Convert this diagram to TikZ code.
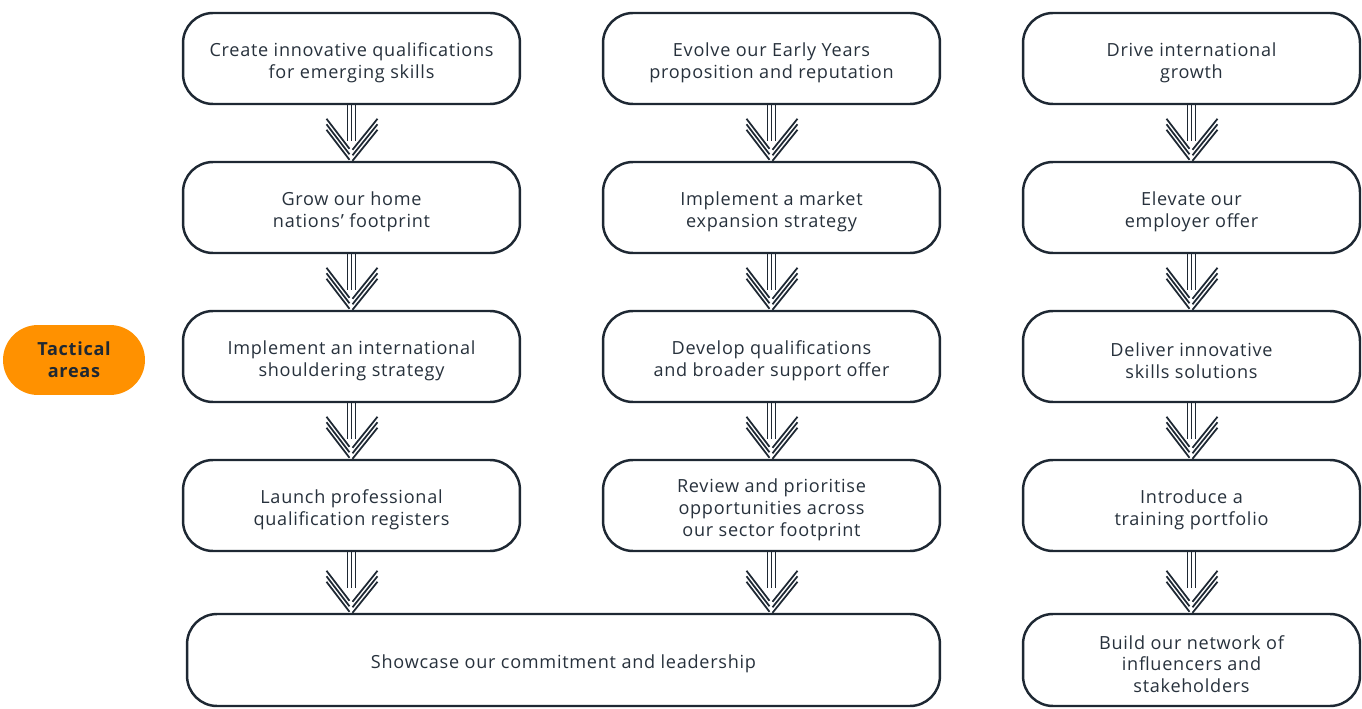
\documentclass[tikz,border=0pt]{standalone}
\usepackage{fontspec}
\setmainfont{Open Sans}[LetterSpace=4]
\definecolor{navy}{HTML}{1E2833}
\definecolor{inktext}{HTML}{27313C}
\definecolor{tactorange}{HTML}{FF9100}
\tikzset{
  goal/.style={draw=navy, line width=1.4pt, rounded corners=0.6cm, fill=white,
    minimum width=6.74cm, minimum height=1.82cm, align=center, text=inktext,
    font=\fontsize{10.3}{12.4}\selectfont, inner sep=0pt},
  flowline/.style={draw=navy, line width=1pt},
}
% strut that drops the text a little in its box
\newcommand{\lowstrut}{\rule{0pt}{12.4pt}}
% triple-line arrow from one box to the next
\newcommand{\flow}[2]{%
  \foreach \k in {-4,0,4}
    \draw[flowline] (#1.south) ++(\k,0) -- ++(0,36);
  \foreach \k in {0,5.5,11}{
    \draw[flowline] (#1.south |- #2.north) ++(-25,-42+\k) -- ++(23,30);
    \draw[flowline] (#1.south |- #2.north) ++(26,-42+\k) -- ++(-25,31);
  }
}
\begin{document}
\begin{tikzpicture}[x=0.02cm, y=-0.02cm]
  \useasboundingbox (0,0) rectangle (1362,709);
  % tactical areas badge
  \node[fill=tactorange, rounded corners=0.7cm, minimum width=2.84cm, minimum height=1.4cm,
    align=center, text=navy, font=\fontsize{10.3}{12.4}\selectfont\bfseries]
    (tact) at (74,360) {Tactical\\areas};
  % first column
  \node[goal] (c1r1) at (351.5,58.5) {\lowstrut Create innovative qualifications\\for emerging skills};
  \node[goal] (c1r2) at (351.5,207.5) {\lowstrut Grow our home\\nations' footprint};
  \node[goal] (c1r3) at (351.5,356.5) {\lowstrut Implement an international\\shouldering strategy};
  \node[goal] (c1r4) at (351.5,505.5) {\lowstrut Launch professional\\qualification registers};
  % second column
  \node[goal] (c2r1) at (771.5,58.5) {\lowstrut Evolve our Early Years\\proposition and reputation};
  \node[goal] (c2r2) at (771.5,207.5) {\lowstrut Implement a market\\expansion strategy};
  \node[goal] (c2r3) at (771.5,356.5) {\lowstrut Develop qualifications\\and broader support offer};
  \node[goal] (c2r4) at (771.5,505.5) {\lowstrut Review and prioritise\\opportunities across\\our sector footprint};
  % shared box
  \node[goal, minimum width=15.06cm, minimum height=1.84cm] (show) at (563.5,660)
    {\lowstrut Showcase our commitment and leadership};
  % third column
  \node[goal] (c3r1) at (1191.5,58.5) {\lowstrut Drive international\\growth};
  \node[goal] (c3r2) at (1191.5,207.5) {\lowstrut Elevate our\\employer offer};
  \node[goal] (c3r3) at (1191.5,356.5) {\lowstrut Deliver innovative\\skills solutions};
  \node[goal] (c3r4) at (1191.5,505.5) {\lowstrut Introduce a\\training portfolio};
  \node[goal, minimum height=1.84cm] (c3r5) at (1191.5,660)
    {\lowstrut Build our network of\\influencers and\\stakeholders};
  % arrows
  \flow{c1r1}{c1r2} \flow{c1r2}{c1r3} \flow{c1r3}{c1r4} \flow{c1r4}{show}
  \flow{c2r1}{c2r2} \flow{c2r2}{c2r3} \flow{c2r3}{c2r4} \flow{c2r4}{show}
  \flow{c3r1}{c3r2} \flow{c3r2}{c3r3} \flow{c3r3}{c3r4} \flow{c3r4}{c3r5}
\end{tikzpicture}
\end{document}
